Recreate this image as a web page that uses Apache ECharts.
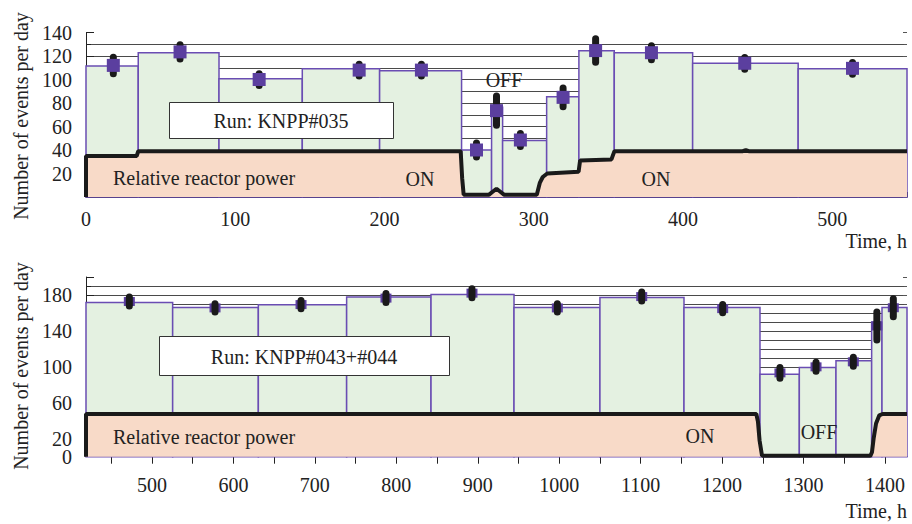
<!DOCTYPE html>
<html><head><meta charset="utf-8">
<script src="https://cdn.jsdelivr.net/npm/echarts@6/dist/echarts.min.js"></script>
<style>html,body{margin:0;padding:0;background:#fff}#c{width:912px;height:524px}</style>
</head><body><div id="c"></div>
<script>
// ---------- Data: run KNPP#035 (top) ----------
const topBinEdges = [0, 35, 89.1, 144.9, 196.7, 251.6, 271.7, 279.1, 308.6, 330.2, 353.9, 406.4, 477.1, 550];
const topBinValues = [111.5, 122.8, 100.7, 109.2, 107.5, 40, 76.3, 48, 85.4, 124.5, 122.8, 113.8, 109.2];
const topPointX = [18.3, 63, 116, 183, 224.7, 261.6, 275, 291, 319.6, 341.4, 378.8, 441.3, 513.5];
const topPointY = [112, 123.5, 100, 108, 108, 40, 73.5, 48.5, 84.8, 124.6, 122.8, 113.8, 109.5];
const topPointErr = [7, 6, 5, 5, 5, 6, 12.5, 5.5, 8, 10, 6, 5, 5];
const topPowerT = [0, 0, 34, 35, 251, 252, 253, 270, 272, 275, 278, 280, 302, 304, 306, 309, 330, 331, 352, 354, 440, 442, 444, 550];
const topPowerP = [0, 35, 35, 39, 39, 16, 2, 2, 4, 7, 4, 2, 2, 12, 17, 20, 21.5, 31, 32, 39, 39, 40, 39, 39];

// ---------- Data: run KNPP#043+#044 (bottom) ----------
const botBinEdges = [419, 525.4, 630.6, 739, 842.6, 944.5, 1050, 1153.2, 1246.5, 1294.8, 1339.8, 1383.6, 1396.3, 1427];
const botBinValues = [171.5, 166, 169, 177.8, 180.4, 166, 177.1, 166, 91.9, 99.3, 106.7, 150, 166];
const botPointX = [472.2, 577.4, 683, 787.3, 892.9, 997.7, 1101.3, 1200.7, 1271, 1315.3, 1361.1, 1390, 1410.2];
const botPointY = [172.7, 165.6, 169.3, 176.5, 182, 165.6, 178.2, 164.8, 93.3, 100, 105.6, 145.5, 165.8];
const botPointErr = [5, 4.5, 4.5, 5, 5, 4.5, 5, 4.5, 6, 5, 5, 15.5, 10];
const botPowerT = [419, 419, 1242, 1244, 1246, 1249, 1382, 1384, 1386, 1389, 1393, 1397, 1427];
const botPowerP = [0, 47.5, 47.5, 39, 18, 1, 1, 5, 20, 37, 46, 47.5, 47.5];

// ---------- Tick labels ----------
const topXLabels = [0, 100, 200, 300, 400, 500];
const topYLabels = [20, 40, 60, 80, 100, 120, 140];
const botXLabels = [500, 600, 700, 800, 900, 1000, 1100, 1200, 1300, 1400];
const botXTicks = [450, 500, 550, 600, 650, 700, 750, 800, 850, 900, 950, 1000, 1050, 1100, 1150, 1200, 1250, 1300, 1350, 1400];
const botYLabels = [0, 20, 60, 100, 140, 180];

// ---------- Styles ----------
const GREEN = '#e4f1e1', PURPLE = '#6a4db3', MARK = '#5b3f9f', PEACH = '#f8dac8', INK = '#1a1a1a';
const FONT = 'Liberation Serif';
const GRIDC = '#4a4a4a';

function bins(edges, vals){ return vals.map((v,i)=>[edges[i], edges[i+1], v]); }
function errs(xs, ys, es){ return xs.map((x,i)=>[x, ys[i]-es[i], ys[i]+es[i]]); }
function pts(xs, ys){ return xs.map((x,i)=>[x, ys[i]]); }

const binRender = function(params, api){
  const p0 = api.coord([api.value(0), api.value(2)]);
  const p1 = api.coord([api.value(1), 0]);
  return {type:'rect', shape:{x:p0[0], y:p0[1], width:p1[0]-p0[0], height:p1[1]-p0[1]},
    style:{fill:GREEN, stroke:PURPLE, lineWidth:1.5}};
};
const errRender = function(params, api){
  const a = api.coord([api.value(0), api.value(1)]);
  const b = api.coord([api.value(0), api.value(2)]);
  return {type:'line', shape:{x1:a[0], y1:a[1], x2:b[0], y2:b[1]},
    style:{stroke:INK, lineWidth:7, lineCap:'round'}};
};

const labelStyle = {fontFamily:FONT, fontSize:20, color:'#222', lineHeight:14, hideOverlap:false};

function yAxisCfg(gi, max, labels){
  return {type:'value', gridIndex:gi, min:0, max:max, interval:20,
    axisLine:{show:true, lineStyle:{color:'#222', width:1}},
    axisTick:{show:true, inside:true, length:8, lineStyle:{color:'#222'}},
    minorTick:{show:true, splitNumber:2, length:5, lineStyle:{color:'#222'}},
    axisLabel:Object.assign({margin:14, customValues:labels, formatter:v=>String(v)}, labelStyle),
    splitLine:{show:true, showMaxLine:false, showMinLine:false, lineStyle:{color:GRIDC, width:1}},
    minorSplitLine:{show:true, lineStyle:{color:GRIDC, width:1}}};
}
function yLabelOnlyCfg(gi, max, labels){
  return {type:'value', gridIndex:gi, min:0, max:max, interval:20, position:'left',
    axisLine:{show:false}, axisTick:{show:false}, splitLine:{show:false},
    axisLabel:Object.assign({margin:14, customValues:labels, formatter:v=>String(v)}, labelStyle)};
}
function yRightCfg(gi, max){
  return {type:'value', gridIndex:gi, min:0, max:max, interval:20, position:'right',
    axisLine:{show:false}, axisLabel:{show:false}, splitLine:{show:false},
    axisTick:{show:true, inside:true, length:4, lineStyle:{color:'#555'}},
    minorTick:{show:true, splitNumber:2, length:3, lineStyle:{color:'#555'}}};
}

const chart = echarts.init(document.getElementById('c'), null, {renderer:'svg'});
const txt = (x, y, s, align, extra) => Object.assign({type:'text', x:x, y:y, z:100,
  style:{text:s, font:'20px "'+FONT+'"', fill:'#222', align:align||'center', verticalAlign:'middle'}}, extra||{});

chart.setOption({
  animation:false,
  backgroundColor:'#fff',
  grid:[{left:86, top:32.5, width:821, height:164.5},
        {left:86, top:277, width:821, height:179.7}],
  xAxis:[
    {type:'value', gridIndex:0, min:0, max:550, interval:50,
      axisLine:{show:true, lineStyle:{color:'#222', width:1}},
      axisTick:{show:true, inside:true, length:5, lineStyle:{color:'#222'}},
      axisLabel:Object.assign({margin:15, customValues:topXLabels, formatter:v=>String(v)}, labelStyle),
      splitLine:{show:false}},
    {type:'value', gridIndex:1, min:419, max:1427,
      axisLine:{show:true, lineStyle:{color:'#222', width:1}},
      axisTick:{show:true, inside:false, length:7, customValues:botXTicks, lineStyle:{color:'#222'}},
      axisLabel:Object.assign({margin:21, customValues:botXLabels, formatter:v=>String(v)}, labelStyle),
      splitLine:{show:false}}
  ],
  yAxis:[yAxisCfg(0, 140, topYLabels), yRightCfg(0, 140),
         yAxisCfg(1, 200, botYLabels.filter(v=>v!==0)), yRightCfg(1, 200),
         yLabelOnlyCfg(1, 200, botYLabels.filter(v=>v===0))],
  series:[
    {type:'custom', xAxisIndex:0, yAxisIndex:0, z:2, renderItem:binRender, encode:{x:[0,1], y:2}, data:bins(topBinEdges, topBinValues)},
    {type:'line', xAxisIndex:0, yAxisIndex:0, z:3, showSymbol:false, symbol:'none', data:pts(topPowerT, topPowerP),
      lineStyle:{color:INK, width:4}, areaStyle:{color:PEACH, opacity:1}},
    {type:'custom', xAxisIndex:0, yAxisIndex:0, z:4, renderItem:errRender, encode:{x:0, y:[1,2]}, data:errs(topPointX, topPointY, topPointErr)},
    {type:'scatter', xAxisIndex:0, yAxisIndex:0, z:5, symbol:'rect', symbolSize:13, itemStyle:{color:MARK, opacity:1}, data:pts(topPointX, topPointY)},

    {type:'custom', xAxisIndex:1, yAxisIndex:2, z:2, renderItem:binRender, encode:{x:[0,1], y:2}, data:bins(botBinEdges, botBinValues)},
    {type:'line', xAxisIndex:1, yAxisIndex:2, z:3, showSymbol:false, symbol:'none', data:pts(botPowerT, botPowerP),
      lineStyle:{color:INK, width:4}, areaStyle:{color:PEACH, opacity:1}},
    {type:'scatter', xAxisIndex:1, yAxisIndex:2, z:4, symbol:'rect', symbolSize:[11,9], itemStyle:{color:MARK, opacity:1}, data:pts(botPointX, botPointY)},
    {type:'custom', xAxisIndex:1, yAxisIndex:2, z:5, renderItem:errRender, encode:{x:0, y:[1,2]}, data:errs(botPointX, botPointY, botPointErr)}
  ],
  graphic:[
    {type:'rect', z:99, shape:{x:169.5, y:102.5, width:224, height:36}, style:{fill:'#fff', stroke:'#333', lineWidth:1}},
    txt(281, 121, 'Run: KNPP#035'),
    txt(113, 178, 'Relative reactor power', 'left'),
    txt(420, 179, 'ON'),
    txt(656, 179, 'ON'),
    txt(504, 80, 'OFF'),
    txt(907, 241, 'Time, h', 'right'),
    {type:'rect', z:99, shape:{x:159.5, y:336.5, width:290, height:39}, style:{fill:'#fff', stroke:'#333', lineWidth:1}},
    txt(304, 357, 'Run: KNPP#043+#044'),
    txt(113, 437, 'Relative reactor power', 'left'),
    txt(700, 436, 'ON'),
    txt(819, 432, 'OFF'),
    txt(907, 511, 'Time, h', 'right'),
    txt(21, 116, 'Number of events per day', 'center', {rotation:Math.PI/2}),
    txt(21, 366, 'Number of events per day', 'center', {rotation:Math.PI/2})
  ]
});
</script></body></html>
